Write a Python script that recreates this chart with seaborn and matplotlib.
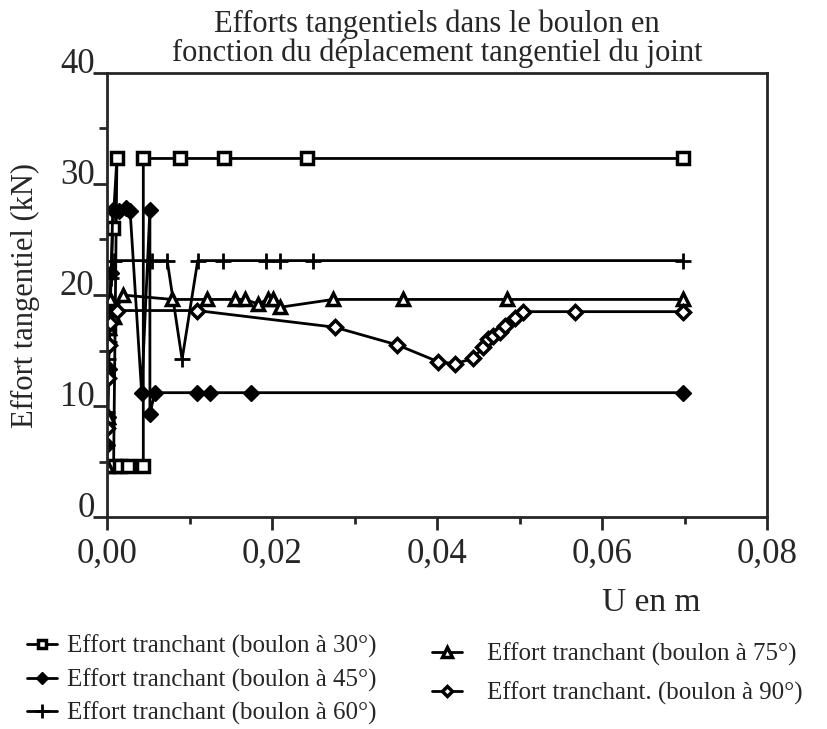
import matplotlib
matplotlib.use("Agg")
import matplotlib.pyplot as plt
from matplotlib.ticker import MultipleLocator, FuncFormatter
import seaborn as sns

# ---- donnees (U en m, effort en kN) ----
x30 = [0.0, 0.0003, 0.0007, 0.0012, 0.0008, 0.0016, 0.0025, 0.0044, 0.0044, 0.0088, 0.0142, 0.0242, 0.0698]
y30 = [8.5, 17.0, 26.0, 32.3, 4.6, 4.6, 4.6, 4.6, 32.3, 32.3, 32.3, 32.3, 32.3]

x45 = [0.0, 0.0001, 0.0002, 0.0003, 0.0005, 0.0007, 0.0015, 0.0023, 0.0028, 0.0042, 0.0052, 0.0052, 0.0058, 0.0109, 0.0125, 0.0175, 0.0698]
y45 = [6.5, 9.0, 13.3, 17.5, 22.0, 27.7, 27.6, 27.8, 27.6, 11.2, 27.7, 9.3, 11.2, 11.2, 11.2, 11.2, 11.2]

x60 = [0.0, 0.0001, 0.0002, 0.0003, 0.0005, 0.0008, 0.0055, 0.0073, 0.0091, 0.0110, 0.0140, 0.0193, 0.0210, 0.0250, 0.0698]
y60 = [9.5, 14.2, 15.8, 19.0, 21.5, 23.1, 23.1, 23.1, 14.2, 23.1, 23.1, 23.1, 23.1, 23.1, 23.1]

x75 = [0.0, 0.0001, 0.0002, 0.0004, 0.0008, 0.0019, 0.0079, 0.0121, 0.0155, 0.0167, 0.0183, 0.0195, 0.0201, 0.0210, 0.0274, 0.0359, 0.0485, 0.0698]
y75 = [4.6, 9.0, 17.0, 19.6, 18.0, 20.0, 19.6, 19.6, 19.6, 19.6, 19.2, 19.6, 19.6, 18.9, 19.6, 19.6, 19.6, 19.6]

x90 = [0.0, 0.0001, 0.0002, 0.0004, 0.0012, 0.0109, 0.0276, 0.0352, 0.0401, 0.0422, 0.0444, 0.0456, 0.0462, 0.0468, 0.0476, 0.0482, 0.0495, 0.0504, 0.0567, 0.0698]
y90 = [8.0, 12.5, 15.5, 17.5, 18.6, 18.6, 17.1, 15.5, 14.0, 13.8, 14.3, 15.3, 16.0, 16.3, 16.7, 17.2, 17.9, 18.5, 18.5, 18.5]

labels = ["Effort tranchant (boulon à 30°)",
          "Effort tranchant (boulon à 45°)",
          "Effort tranchant (boulon à 60°)",
          "Effort tranchant (boulon à 75°)",
          "Effort tranchant. (boulon à 90°)"]

# ---- style ----
sns.set_style("ticks")
plt.rcParams['font.family'] = ['Liberation Serif', 'DejaVu Serif']
plt.rcParams['axes.linewidth'] = 2.0

fig = plt.figure(figsize=(8.27, 7.29), dpi=100)
ax = fig.add_axes([107/827, 1-517/729, 660/827, 444/729])

common = dict(sort=False, estimator=None, color="black", linewidth=2.0, ax=ax)
sns.lineplot(x=x30, y=y30, marker="s", markersize=8, markerfacecolor="white",
             markeredgecolor="black", markeredgewidth=2.5, **common)
sns.lineplot(x=x45, y=y45, marker="D", markersize=8, markerfacecolor="black",
             markeredgecolor="black", markeredgewidth=1, **common)
sns.lineplot(x=x60, y=y60, marker="+", markersize=12, markeredgecolor="black",
             markeredgewidth=2, **common)
sns.lineplot(x=x75, y=y75, marker="^", markersize=9, markerfacecolor="white",
             markeredgecolor="black", markeredgewidth=2.5, **common)
sns.lineplot(x=x90, y=y90, marker="D", markersize=7, markerfacecolor="white",
             markeredgecolor="black", markeredgewidth=2.5, **common)

ax.set_xlim(0, 0.08)
ax.set_ylim(0, 40)
ax.xaxis.set_major_locator(MultipleLocator(0.02))
ax.xaxis.set_minor_locator(MultipleLocator(0.01))
ax.yaxis.set_major_locator(MultipleLocator(10))
ax.yaxis.set_minor_locator(MultipleLocator(5))
ax.xaxis.set_major_formatter(FuncFormatter(lambda v, p: f"{v:.2f}".replace('.', ',')))
ax.yaxis.set_major_formatter(FuncFormatter(lambda v, p: f"{v:.0f}"))

ax.tick_params(axis='x', which='major', length=9, width=2, labelsize=25, pad=6)
ax.tick_params(axis='x', which='minor', length=5, width=2)
ax.tick_params(axis='y', which='major', length=10, width=2, labelsize=25, pad=-1)
ax.tick_params(axis='y', which='minor', length=6, width=2)
for lbl in ax.get_yticklabels():
    lbl.set_va('baseline')

for side in ['top', 'right']:
    ax.spines[side].set_visible(True)

ax.set_title("Efforts tangentiels dans le boulon en\nfonction du déplacement tangentiel du joint",
             fontsize=22, linespacing=0.95, pad=9)
ax.set_ylabel("Effort tangentiel (kN)", fontsize=22)
ax.yaxis.set_label_coords(-0.102, 0.5)
ax.set_xlabel("")
fig.text(700/827, 1-603/729, "U en m", fontsize=24, ha='right', va='center')

lines = ax.get_lines()
fig.legend(lines[:3], labels[:3], loc='upper left', bbox_to_anchor=(27/827, 1-635/729),
           frameon=False, fontsize=18, handlelength=1.2, handletextpad=0.4,
           labelspacing=0.4, borderaxespad=0, borderpad=0, markerscale=0.8)
fig.legend(lines[3:], labels[3:], loc='upper left', bbox_to_anchor=(432/827, 1-643/729),
           frameon=False, fontsize=18, handlelength=1.2, handletextpad=1.0,
           labelspacing=0.6, borderaxespad=0, borderpad=0, markerscale=0.8)

fig.savefig("out.png", dpi=100)
